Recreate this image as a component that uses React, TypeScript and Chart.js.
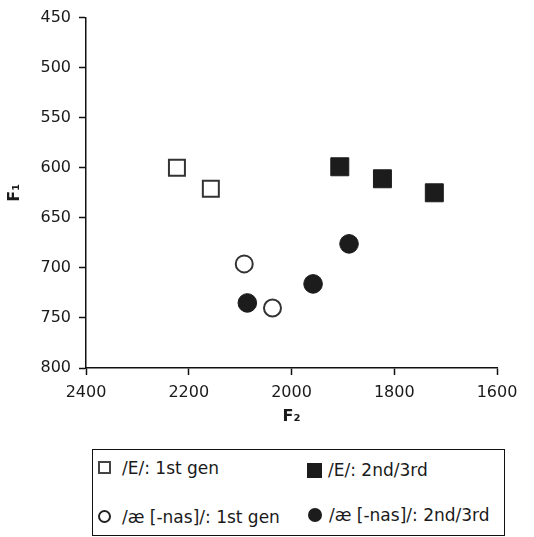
import React, { useEffect, useRef } from "react";
import { Chart, registerables } from "chart.js";

Chart.register(...registerables);

// Data (F2 in Hz on x, F1 in Hz on y)
const eFirstGenF2 = [2223, 2157];
const eFirstGenF1 = [600, 621];
const eLaterGenF2 = [1906, 1823, 1722];
const eLaterGenF1 = [599, 611, 625];
const aeFirstGenF2 = [2092, 2037];
const aeFirstGenF1 = [696, 740];
const aeLaterGenF2 = [2086, 1958, 1888];
const aeLaterGenF1 = [735, 716, 676];

const seriesLabels = [
  "/E/: 1st gen",
  "/E/: 2nd/3rd",
  "/æ [-nas]/: 1st gen",
  "/æ [-nas]/: 2nd/3rd",
];

const xTickMin = 1600;
const xTickMax = 2400;
const yTickMin = 450;
const yTickMax = 800;

const toPoints = (xs: number[], ys: number[]) => xs.map((x, i) => ({ x, y: ys[i] }));

const DARK = "#1c1c1c";
const FONT = "'DejaVu Sans', sans-serif";

export default function App() {
  const ref = useRef<HTMLCanvasElement | null>(null);

  useEffect(() => {
    if (!ref.current) return;
    const chart = new Chart(ref.current, {
      type: "scatter",
      data: {
        datasets: [
          {
            label: seriesLabels[0],
            data: toPoints(eFirstGenF2, eFirstGenF1),
            pointStyle: "rect",
            pointRadius: 11.3,
            backgroundColor: "#ffffff",
            borderColor: "#333333",
            borderWidth: 2,
          },
          {
            label: seriesLabels[1],
            data: toPoints(eLaterGenF2, eLaterGenF1),
            pointStyle: "rect",
            pointRadius: 12.7,
            backgroundColor: DARK,
            borderColor: DARK,
            borderWidth: 1,
          },
          {
            label: seriesLabels[2],
            data: toPoints(aeFirstGenF2, aeFirstGenF1),
            pointStyle: "circle",
            pointRadius: 8.5,
            backgroundColor: "#ffffff",
            borderColor: "#333333",
            borderWidth: 2,
          },
          {
            label: seriesLabels[3],
            data: toPoints(aeLaterGenF2, aeLaterGenF1),
            pointStyle: "circle",
            pointRadius: 9.3,
            backgroundColor: DARK,
            borderColor: DARK,
            borderWidth: 1,
          },
        ],
      },
      options: {
        animation: false,
        responsive: true,
        maintainAspectRatio: false,
        layout: { padding: { top: 13, right: 37, left: 0, bottom: 0 } },
        plugins: {
          legend: { display: false },
          tooltip: { enabled: false },
        },
        scales: {
          x: {
            type: "linear",
            reverse: true,
            min: xTickMin,
            max: xTickMax,
            ticks: {
              stepSize: 200,
              color: "#1a1a1a",
              font: { family: FONT, size: 16 },
              padding: 8,
              maxRotation: 0,
              callback: (v: any) => String(v),
            },
            grid: {
              display: true,
              drawOnChartArea: false,
              drawTicks: true,
              tickLength: 7,
              color: "#111",
              tickColor: "#111",
              tickWidth: 1.5,
            },
            border: { display: true, color: "#111", width: 1.5 },
            title: {
              display: true,
              text: "F₂",
              color: "#1a1a1a",
              font: { family: FONT, size: 16, weight: "bold" },
              padding: { top: 0, bottom: 14 },
            },
            afterFit: (s: any) => {
              s.height = 72;
            },
          },
          y: {
            type: "linear",
            reverse: true,
            min: yTickMin,
            max: yTickMax,
            ticks: {
              stepSize: 50,
              color: "#1a1a1a",
              font: { family: FONT, size: 16 },
              padding: 8,
              callback: (v: any) => String(v),
            },
            grid: {
              display: true,
              drawOnChartArea: false,
              drawTicks: true,
              tickLength: 7,
              color: "#111",
              tickColor: "#111",
              tickWidth: 1.5,
            },
            border: { display: true, color: "#111", width: 1.5 },
            title: {
              display: true,
              text: "F₁",
              color: "#1a1a1a",
              font: { family: FONT, size: 16, weight: "bold" },
              padding: { top: 5, bottom: 0 },
            },
            afterFit: (s: any) => {
              s.width = 86;
            },
          },
        },
      },
    });
    return () => chart.destroy();
  }, []);

  const textStyle: React.CSSProperties = {
    position: "absolute",
    fontFamily: FONT,
    fontSize: 17,
    color: "#1a1a1a",
    lineHeight: "20px",
    whiteSpace: "nowrap",
  };

  return (
    <div style={{ position: "absolute", left: 0, top: 0, width: 534, height: 537, background: "#fff" }}>
      <div style={{ position: "absolute", left: 0, top: 0, width: 534, height: 440 }}>
        <canvas ref={ref} />
      </div>
      <div
        style={{
          position: "absolute",
          left: 92,
          top: 449,
          width: 411,
          height: 85,
          border: "1px solid #111",
        }}
      >
        {/* row 1, col 1: open square */}
        <div style={{ position: "absolute", left: 5, top: 11, width: 9, height: 9, border: "2px solid #444", background: "#fff" }} />
        <div style={{ ...textStyle, left: 29, top: 8 }}>{seriesLabels[0]}</div>
        {/* row 1, col 2: filled square */}
        <div style={{ position: "absolute", left: 214, top: 13, width: 15, height: 15, background: DARK }} />
        <div style={{ ...textStyle, left: 235, top: 10 }}>{seriesLabels[1]}</div>
        {/* row 2, col 1: open circle */}
        <div style={{ position: "absolute", left: 5, top: 60, width: 9, height: 9, border: "2px solid #222", borderRadius: "50%", background: "#fff" }} />
        <div style={{ ...textStyle, left: 29, top: 57 }}>{seriesLabels[2]}</div>
        {/* row 2, col 2: filled circle */}
        <div style={{ position: "absolute", left: 215, top: 58, width: 14, height: 14, borderRadius: "50%", background: DARK }} />
        <div style={{ ...textStyle, left: 236, top: 55 }}>{seriesLabels[3]}</div>
      </div>
    </div>
  );
}
